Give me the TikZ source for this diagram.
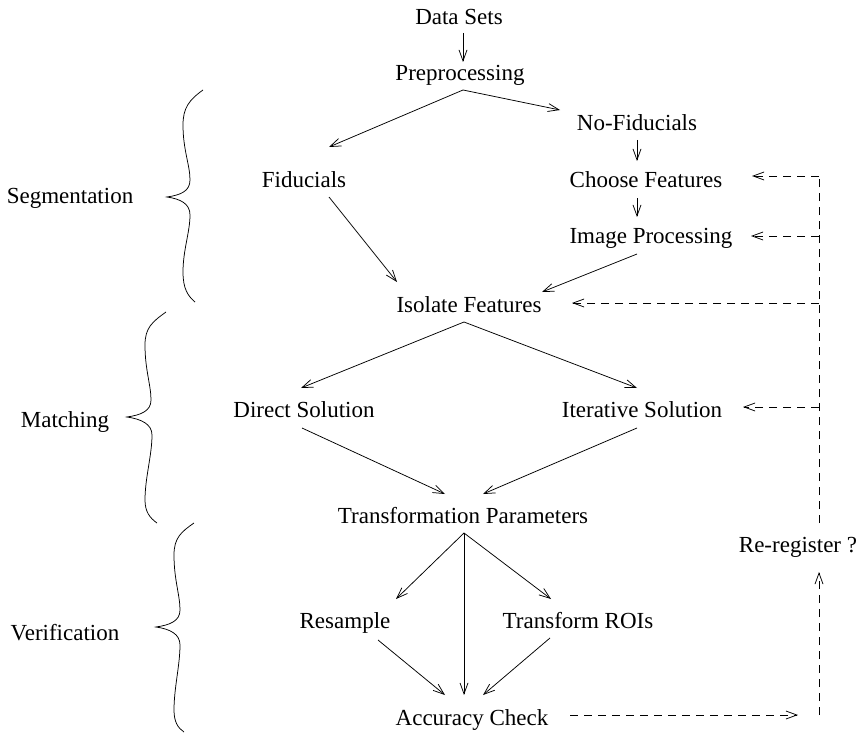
\documentclass[tikz,border=0pt]{standalone}
\usepackage{fontspec}
\setmainfont{Liberation Serif}
\usetikzlibrary{arrows.meta}

\tikzset{
  lbl/.style={inner sep=0pt, anchor=base, font=\fontsize{23}{27}\selectfont},
  flow/.style={line width=0.75pt, -{Straight Barb[length=11pt,width=8pt,line width=0.75pt]}},
  back/.style={flow, dash pattern=on 8pt off 6pt},
  backline/.style={line width=0.75pt, dash pattern=on 8pt off 6pt},
  curly/.style={line width=0.75pt}
}

\begin{document}
\begin{tikzpicture}[x=1pt,y=-1pt]
\useasboundingbox (0,0) rectangle (862,733);

% ---- stages of the pipeline ----
\node[lbl] (data)  at (459,25)  {Data Sets};
\node[lbl] (prep)  at (460,81)  {Preprocessing};
\node[lbl] (nofid) at (637,131) {No-Fiducials};
\node[lbl] (fid)   at (304,187) {Fiducials};
\node[lbl] (choose) at (646,187) {Choose Features};
\node[lbl] (improc) at (651,243) {Image Processing};
\node[lbl] (iso)   at (469,312) {Isolate Features};
\node[lbl] (direct) at (304,417) {Direct Solution};
\node[lbl] (iter)  at (642,417) {Iterative Solution};
\node[lbl] (tpar)  at (463,523) {Transformation Parameters};
\node[lbl] (rereg) at (798,552) {Re-register ?};
\node[lbl] (resamp) at (345,628) {Resample};
\node[lbl] (troi)  at (578,628) {Transform ROIs};
\node[lbl] (acc)   at (472,725) {Accuracy Check};

% ---- phase labels ----
\node[lbl] (seg)   at (70,203)  {Segmentation};
\node[lbl] (match) at (65,427)  {Matching};
\node[lbl] (verif) at (65,640)  {Verification};

% ---- connector end points ----
\coordinate (data-o)  at (463,33);
\coordinate (prep-i)  at (463,62);
\coordinate (prep-o)  at (463,90);
\coordinate (fid-i)   at (329,147);
\coordinate (nofid-i) at (560,110);
\coordinate (nofid-o) at (637,140);
\coordinate (choose-i) at (637,161);
\coordinate (choose-o) at (637,198);
\coordinate (improc-i) at (637,217);
\coordinate (improc-o) at (637,254);
\coordinate (fid-o)   at (329,197);
\coordinate (iso-i1)  at (397,282);
\coordinate (iso-i2)  at (542,292);
\coordinate (iso-o)   at (464,322);
\coordinate (direct-i) at (301,388);
\coordinate (iter-i)  at (637,388);
\coordinate (direct-o) at (302,428);
\coordinate (iter-o)  at (637,428);
\coordinate (tpar-i1) at (445,494);
\coordinate (tpar-i2) at (483,494);
\coordinate (tpar-o)  at (464,533);
\coordinate (resamp-i) at (396,599);
\coordinate (troi-i)  at (551,599);
\coordinate (acc-i0)  at (464,695);
\coordinate (resamp-o) at (378,640);
\coordinate (troi-o)  at (550,638);
\coordinate (acc-i1)  at (445,695);
\coordinate (acc-i2)  at (483,695);

% ---- feedback loop points ----
\coordinate (acc-o)    at (570,715);
\coordinate (loop-in)  at (798,715);
\coordinate (loop-bot) at (819,715);
\coordinate (rereg-i)  at (819,572);
\coordinate (rereg-o)  at (819,523);
\coordinate (loop-top) at (819,176);
\coordinate (k-choose) at (819,176);
\coordinate (k-improc) at (819,236);
\coordinate (k-iso)    at (819,303);
\coordinate (k-iter)   at (819,407);
\coordinate (choose-b) at (752,176);
\coordinate (improc-b) at (751,236);
\coordinate (iso-b)    at (572,303);
\coordinate (iter-b)   at (743,407);

% ---- forward flow ----
\draw[flow] (data-o) -- (prep-i);
\draw[flow] (prep-o) -- (fid-i);
\draw[flow] (prep-o) -- (nofid-i);
\draw[flow] (nofid-o) -- (choose-i);
\draw[flow] (choose-o) -- (improc-i);
\draw[flow] (fid-o) -- (iso-i1);
\draw[flow] (improc-o) -- (iso-i2);
\draw[flow] (iso-o) -- (direct-i);
\draw[flow] (iso-o) -- (iter-i);
\draw[flow] (direct-o) -- (tpar-i1);
\draw[flow] (iter-o) -- (tpar-i2);
\draw[flow] (tpar-o) -- (resamp-i);
\draw[flow] (tpar-o) -- (acc-i0);
\draw[flow] (tpar-o) -- (troi-i);
\draw[flow] (resamp-o) -- (acc-i1);
\draw[flow] (troi-o) -- (acc-i2);

% ---- re-registration loop ----
\draw[back] (acc-o) -- (loop-in);
\draw[back] (loop-bot) -- (rereg-i);
\draw[backline] (rereg-o) -- (loop-top);
\draw[back] (k-choose) -- (choose-b);
\draw[back] (k-improc) -- (improc-b);
\draw[back] (k-iso) -- (iso-b);
\draw[back] (k-iter) -- (iter-b);

% ---- phase braces ----
\draw[curly] (203,90) .. controls (189,100) and (183,108) .. (183,125)
  .. controls (183,150) and (190,165) .. (190,180)
  .. controls (190,191) and (181,195) .. (167,197)
  .. controls (181,199) and (190,204) .. (190,215)
  .. controls (190,232) and (183,250) .. (183,272)
  .. controls (183,289) and (188,296) .. (195,302);
\draw[curly] (166,312) .. controls (152,322) and (145,328) .. (145,345)
  .. controls (145,370) and (151,385) .. (151,400)
  .. controls (151,411) and (141,415) .. (127,417)
  .. controls (141,419) and (152,424) .. (152,435)
  .. controls (152,455) and (145,478) .. (145,500)
  .. controls (145,512) and (150,518) .. (157,523);
\draw[curly] (194,523) .. controls (181,532) and (174,538) .. (174,555)
  .. controls (174,580) and (180,595) .. (180,610)
  .. controls (180,621) and (170,625) .. (156,627)
  .. controls (170,629) and (180,634) .. (180,645)
  .. controls (180,665) and (174,688) .. (174,710)
  .. controls (174,722) and (178,728) .. (184,732);
\end{tikzpicture}
\end{document}
